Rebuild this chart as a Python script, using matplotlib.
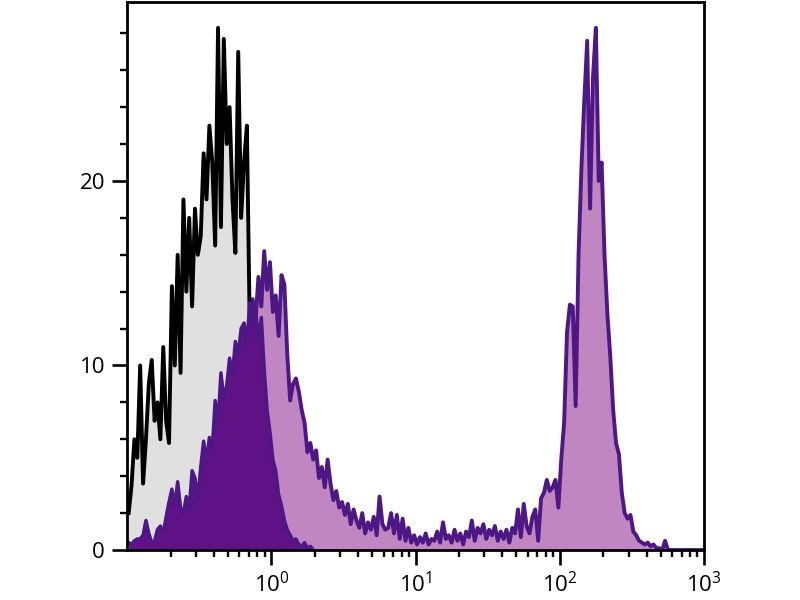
import numpy as np
import matplotlib
matplotlib.use("Agg")
import matplotlib.pyplot as plt
from matplotlib.ticker import FixedLocator, NullFormatter

plt.rcParams['font.family'] = ['Open Sans', 'DejaVu Sans']
plt.rcParams['mathtext.fontset'] = 'custom'
plt.rcParams['mathtext.rm'] = 'Open Sans'
plt.rcParams['mathtext.it'] = 'Open Sans'

# histogram binning (log10 of fluorescence), bins start at 10^-1
log_start = -1.0
bin_width = 0.02

# control (grey fill, black outline)
control_counts = [2.0, 3.5, 6.0, 5.0, 10.0, 3.6, 6.0, 9.0, 10.3, 7.0, 8.0, 6.0, 11.0, 7.0,
                  5.8, 14.3, 10.0, 16.0, 9.6, 19.0, 14.0, 18.0, 13.2, 18.5, 16.0, 17.0, 21.5,
                  19.0, 23.0, 21.0, 16.5, 28.3, 17.5, 27.7, 22.0, 24.0, 19.0, 16.1, 27.0, 18.0,
                  21.0, 23.0, 12.0, 0.0]

# stained sample (light purple fill, dark purple outline)
stained_counts = [0.3, 0.5, 0.2, 0.8, 0.4, 1.0, 0.6, 0.9, 1.2, 0.7, 1.3, 1.0, 1.6, 1.1, 2.0,
                  1.5, 2.4, 1.9, 2.8, 2.2, 3.1, 2.7, 3.6, 3.0, 4.2, 3.8, 4.9, 4.1, 5.6, 5.0,
                  6.3, 5.8, 7.2, 6.6, 8.1, 7.4, 9.0, 8.2, 9.9, 9.1,
                  11.5, 12.8, 11.0, 13.6, 12.4, 14.8, 13.2, 16.2, 14.1, 15.6,
                  12.9, 13.8, 11.6, 14.9, 14.4, 10.6, 8.1, 9.0, 9.3, 8.6,
                  7.6, 6.9, 5.3, 5.8, 4.9, 5.4, 3.9, 4.5, 3.4, 4.9,
                  3.6, 2.7, 3.2, 2.3, 2.6, 1.9, 2.5, 1.4, 2.2, 1.6,
                  1.2, 2.0, 0.9, 1.5, 1.1, 1.8, 0.8, 2.9, 1.4, 1.1,
                  1.2, 2.0, 0.9, 1.9, 0.6, 1.7, 0.5, 1.2, 0.4, 0.8,
                  0.3, 0.7, 0.4, 0.9, 0.3, 0.6, 0.5, 1.0, 0.4, 1.5,
                  0.6, 0.8, 0.4, 1.1, 0.5, 0.9, 0.3, 1.0, 0.7, 1.6,
                  0.5, 1.2, 0.9, 1.4, 0.6, 1.1, 0.8, 1.3, 0.5, 1.0,
                  0.6, 1.1, 0.4, 1.2, 0.9, 2.2, 0.7, 2.5, 1.3, 0.9,
                  1.8, 2.2, 0.5, 2.8, 3.1, 3.8, 3.2, 3.4, 3.8, 2.3,
                  4.9, 6.9, 11.8, 13.3, 13.2, 7.8, 16.0, 20.7, 24.4, 27.6,
                  18.5, 25.6, 28.3, 20.0, 21.0, 16.0, 12.8, 10.5, 7.6, 5.8,
                  5.2, 3.1, 2.0, 1.7, 1.9, 1.0, 0.8, 0.5, 0.4, 0.3,
                  0.4, 0.2, 0.3, 0.1, 0.1, 0.0, 0.5, 0.0, 0.0, 0.0,
                  0.0, 0.0, 0.0, 0.0, 0.0, 0.0, 0.0, 0.0, 0.0, 0.0]

# negative population (dark purple fill)
negative_counts = [0.4, 0.3, 0.5, 0.6, 0.6, 0.8, 1.6, 0.9, 0.4, 0.5, 1.1, 1.3, 0.9, 1.8,
                   2.6, 3.3, 2.4, 3.7, 2.3, 2.0, 2.9, 2.2, 4.3, 3.9, 2.8, 4.5, 5.9, 4.8,
                   6.1, 5.5, 8.1, 6.9, 9.6, 8.2, 8.9, 10.4, 9.5, 11.3, 10.6, 12.0, 12.3,
                   11.2, 13.4, 12.1, 13.0, 11.4, 12.6, 9.8, 7.6, 6.4, 4.9, 4.3, 3.0, 2.4,
                   1.6, 1.1, 0.8, 0.5, 0.6, 0.3, 0.2, 0.4, 0.1, 0.2, 0.0]

x_ticks = [1, 10, 100, 1000]
y_ticks = [0, 10, 20]


def centers(n):
    return 10 ** (log_start + bin_width * (np.arange(n) + 0.5))


fig = plt.figure(figsize=(8, 6), dpi=100)
ax = fig.add_axes([0.159, 0.0833, 0.721, 0.9134])

outline = '#4e1786'

xs = centers(len(stained_counts))
ax.fill_between(xs, stained_counts, 0, color='#bf86c1', lw=0, zorder=1)
ax.plot(xs, stained_counts, color=outline, lw=2.8, zorder=2)

xc = centers(len(control_counts))
ax.fill_between(xc, control_counts, 0, color='#e0e0e0', lw=0, zorder=3)
ax.plot(xc, control_counts, color='black', lw=2.8, zorder=4)

xn = centers(len(negative_counts))
ax.fill_between(xn, negative_counts, 0, color='#5e1285', lw=0, zorder=5)
ax.plot(xn, negative_counts, color=outline, lw=2.5, zorder=6)

ax.set_xscale('log')
ax.set_xlim(0.1, 1000)
ax.set_ylim(0, 29.7)

ax.xaxis.set_major_locator(FixedLocator(x_ticks))
minor_x = [m * 10.0 ** e for e in range(-1, 3) for m in range(2, 10)]
ax.xaxis.set_minor_locator(FixedLocator(minor_x))
ax.xaxis.set_minor_formatter(NullFormatter())

ax.yaxis.set_major_locator(FixedLocator(y_ticks))
ax.yaxis.set_minor_locator(FixedLocator([v for v in range(2, 29, 2) if v % 10 != 0]))

ax.tick_params(which='major', direction='out', length=11, width=1.9, labelsize=16,
               pad=5, colors='black')
ax.tick_params(which='minor', direction='out', length=5, width=1.7)
ax.tick_params(axis='x', which='major', pad=5)
ax.tick_params(top=False, right=False, which='both')

for s in ax.spines.values():
    s.set_linewidth(2.0)
    s.set_color('black')
    s.set_zorder(10)

fig.savefig('out.png', dpi=100)
